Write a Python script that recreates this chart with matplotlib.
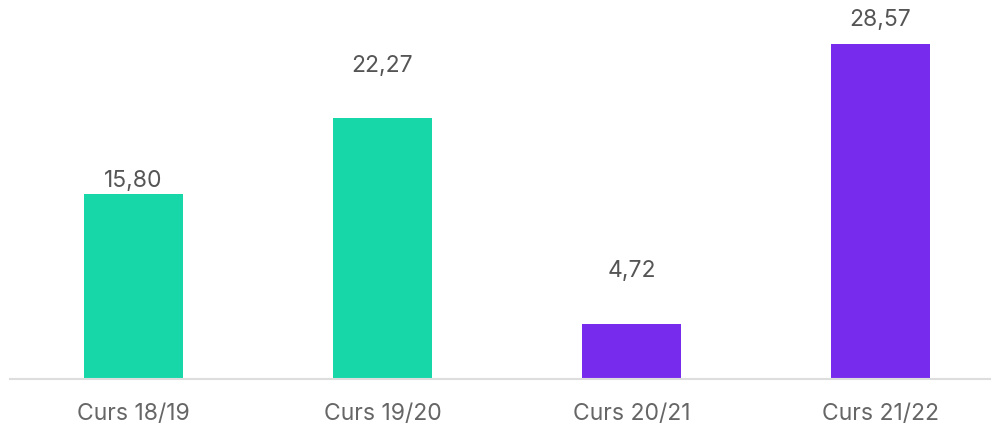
import matplotlib
matplotlib.use('Agg')
import matplotlib.pyplot as plt

# chart data
cursos = ['Curs 18/19', 'Curs 19/20', 'Curs 20/21', 'Curs 21/22']
valors = [15.80, 22.27, 4.72, 28.57]
etiquetes = ['15,80', '22,27', '4,72', '28,57']

colors = ['#17d7a8', '#17d7a8', '#772ced', '#772ced']
label_offsets = [13, 52, 53, 24]  # px above bar top (label centre)

plt.rcParams['font.family'] = ['Inter', 'DejaVu Sans']

fig = plt.figure(figsize=(9.92, 4.30), dpi=100)
ax = fig.add_axes([10 / 992, 51 / 430, 980 / 992, 379 / 430])

x = list(range(len(cursos)))
ax.bar(x, valors, width=0.40, color=colors)

for xi, v, txt, off in zip(x, valors, etiquetes, label_offsets):
    ax.annotate(txt, (xi, v), xytext=(0, off * 0.72), textcoords='offset points',
                ha='center', va='center', fontsize=16.5, color='#555555')

ax.set_xlim(-0.496, 3.44)
ax.set_ylim(0, 379 / 11.72)
ax.set_xticks(x)
ax.set_xticklabels(cursos, fontsize=16.5, color='#666666')
ax.tick_params(axis='x', length=0, pad=17)
ax.set_yticks([])
for s in ['top', 'left', 'right']:
    ax.spines[s].set_visible(False)
ax.spines['bottom'].set_color('#dddddd')
ax.spines['bottom'].set_linewidth(1.5)

fig.savefig('out.png', dpi=100)
